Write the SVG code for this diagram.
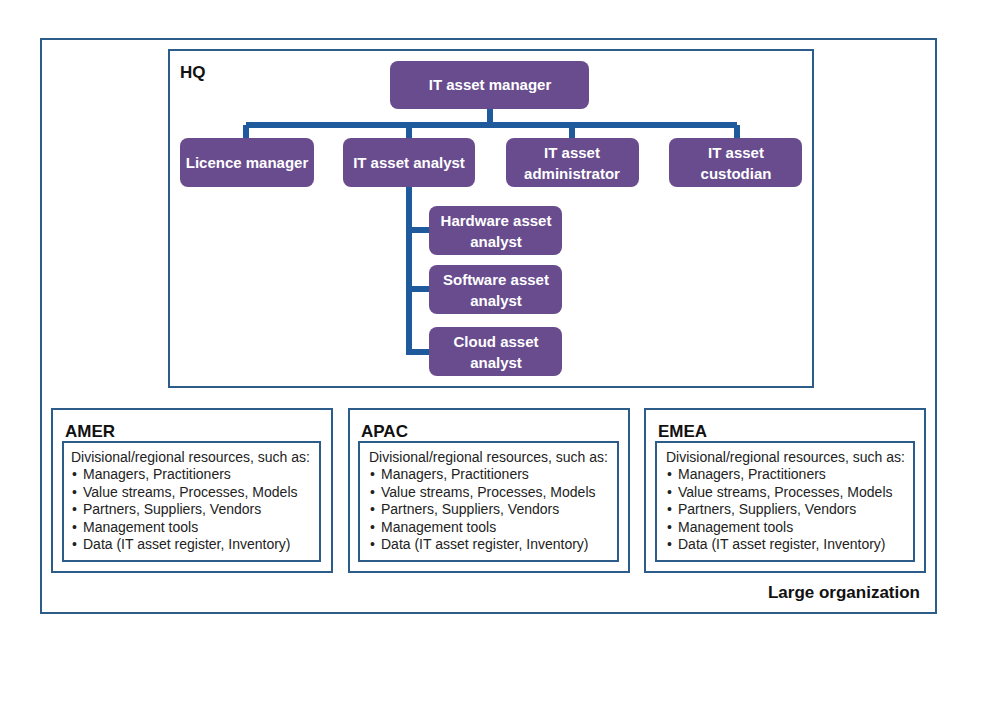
<svg xmlns="http://www.w3.org/2000/svg" width="983" height="724" viewBox="0 0 983 724">
<style>
.frame{fill:none;stroke:#2B5C8A;stroke-width:2}
.node{fill:#684C8E}
.nt{font-family:"Liberation Sans",Arial,sans-serif;font-weight:bold;font-size:15px;fill:#fff;text-anchor:middle}
.title{font-family:"Liberation Sans",Arial,sans-serif;font-weight:bold;font-size:17px;fill:#111}
.body{font-family:"Liberation Sans",Arial,sans-serif;font-size:14px;fill:#222}
.conn{fill:none;stroke:#1F5A9C;stroke-width:6}
</style>
<rect width="983" height="724" fill="#fff"/>
<g id="large-organization">
<rect class="frame" x="41" y="39" width="895" height="574"/>
<text class="title" x="920" y="598" text-anchor="end">Large organization</text>
</g>
<g id="hq">
<rect class="frame" x="169" y="50" width="644" height="337"/>
<text class="title" x="180" y="78">HQ</text>
</g>
<g id="connectors">
<path class="conn" d="M490 108V125M246 125H737M246 125V140M409 125V140M572 125V140M737 125V140"/>
<path class="conn" d="M409 186V352H431M409 230H431M409 289H431"/>
</g>
<g id="it-asset-manager">
<rect class="node" x="390" y="61" width="199" height="48" rx="8"/>
<text class="nt" x="490" y="90">IT asset manager</text>
</g>
<g id="licence-manager">
<rect class="node" x="180" y="138" width="134" height="49" rx="8"/>
<text class="nt" x="247" y="168">Licence manager</text>
</g>
<g id="it-asset-analyst">
<rect class="node" x="343" y="138" width="132" height="49" rx="8"/>
<text class="nt" x="409" y="168">IT asset analyst</text>
</g>
<g id="it-asset-administrator">
<rect class="node" x="506" y="138" width="133" height="49" rx="8"/>
<text class="nt" x="572" y="158">IT asset</text>
<text class="nt" x="572" y="179">administrator</text>
</g>
<g id="it-asset-custodian">
<rect class="node" x="669" y="138" width="133" height="49" rx="8"/>
<text class="nt" x="736" y="158">IT asset</text>
<text class="nt" x="736" y="179">custodian</text>
</g>
<g id="hardware-asset-analyst">
<rect class="node" x="429" y="206" width="133" height="49" rx="8"/>
<text class="nt" x="496" y="226">Hardware asset</text>
<text class="nt" x="496" y="247">analyst</text>
</g>
<g id="software-asset-analyst">
<rect class="node" x="429" y="265" width="133" height="49" rx="8"/>
<text class="nt" x="496" y="285">Software asset</text>
<text class="nt" x="496" y="306">analyst</text>
</g>
<g id="cloud-asset-analyst">
<rect class="node" x="429" y="327" width="133" height="49" rx="8"/>
<text class="nt" x="496" y="347">Cloud asset</text>
<text class="nt" x="496" y="368">analyst</text>
</g>
<g id="amer">
<rect class="frame" x="52" y="409" width="280" height="163"/>
<text class="title" x="65" y="437">AMER</text>
<rect class="frame" x="63" y="442" width="257" height="119"/>
<text class="body" x="71" y="462">Divisional/regional resources, such as:</text>
<text class="body" x="72" y="479">•<tspan x="83">Managers, Practitioners</tspan></text>
<text class="body" x="72" y="497">•<tspan x="83">Value streams, Processes, Models</tspan></text>
<text class="body" x="72" y="514">•<tspan x="83">Partners, Suppliers, Vendors</tspan></text>
<text class="body" x="72" y="532">•<tspan x="83">Management tools</tspan></text>
<text class="body" x="72" y="549">•<tspan x="83">Data (IT asset register, Inventory)</tspan></text>
</g>
<g id="apac">
<rect class="frame" x="349" y="409" width="280" height="163"/>
<text class="title" x="361" y="437">APAC</text>
<rect class="frame" x="359" y="442" width="259" height="119"/>
<text class="body" x="369" y="462">Divisional/regional resources, such as:</text>
<text class="body" x="370" y="479">•<tspan x="381">Managers, Practitioners</tspan></text>
<text class="body" x="370" y="497">•<tspan x="381">Value streams, Processes, Models</tspan></text>
<text class="body" x="370" y="514">•<tspan x="381">Partners, Suppliers, Vendors</tspan></text>
<text class="body" x="370" y="532">•<tspan x="381">Management tools</tspan></text>
<text class="body" x="370" y="549">•<tspan x="381">Data (IT asset register, Inventory)</tspan></text>
</g>
<g id="emea">
<rect class="frame" x="645" y="409" width="280" height="163"/>
<text class="title" x="658" y="437">EMEA</text>
<rect class="frame" x="656" y="442" width="258" height="119"/>
<text class="body" x="666" y="462">Divisional/regional resources, such as:</text>
<text class="body" x="667" y="479">•<tspan x="678">Managers, Practitioners</tspan></text>
<text class="body" x="667" y="497">•<tspan x="678">Value streams, Processes, Models</tspan></text>
<text class="body" x="667" y="514">•<tspan x="678">Partners, Suppliers, Vendors</tspan></text>
<text class="body" x="667" y="532">•<tspan x="678">Management tools</tspan></text>
<text class="body" x="667" y="549">•<tspan x="678">Data (IT asset register, Inventory)</tspan></text>
</g>
</svg>
